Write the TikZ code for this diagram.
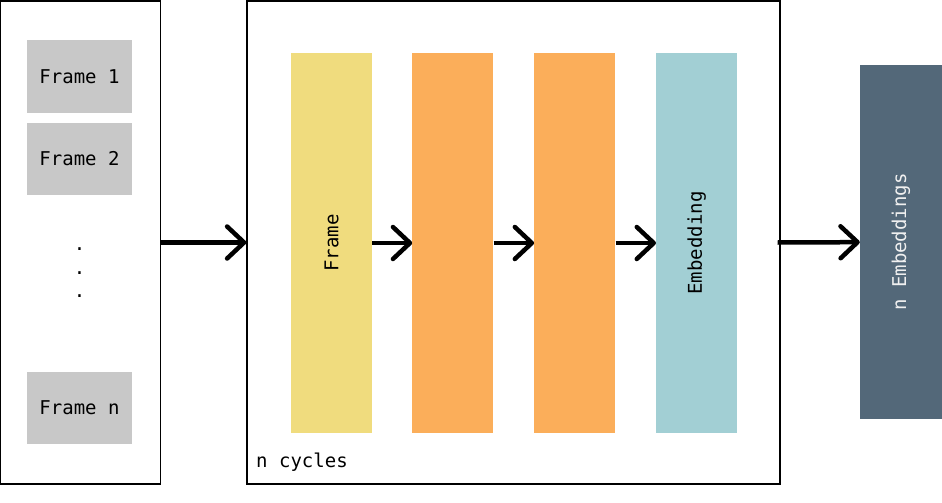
\documentclass[tikz,border=0pt]{standalone}
\usepackage{fontspec}
\setmonofont{DejaVu Sans Mono}
\usetikzlibrary{arrows.meta, positioning}

\definecolor{framegray}{HTML}{C8C8C8}
\definecolor{frameyellow}{HTML}{F0DC7E}
\definecolor{layerorange}{HTML}{FBAE5A}
\definecolor{embedteal}{HTML}{A2CFD4}
\definecolor{outslate}{HTML}{536879}

\begin{document}
\begin{tikzpicture}[
    x=1pt, y=-1pt,
    font=\fontsize{19}{22}\selectfont\ttfamily,
    panel/.style={rectangle, draw=black, line width=1.3pt, inner sep=0pt},
    framebox/.style={rectangle, fill=framegray, minimum width=105pt, minimum height=72pt, inner sep=0pt},
    block/.style={rectangle, minimum width=81pt, minimum height=380pt, inner sep=0pt},
    arr/.style={-{Straight Barb[length=17pt, width=32pt, round]}, line width=4.5pt},
]
\useasboundingbox (0,0) rectangle (942,503);

% ── Left panel: input frames ──
\node[panel, minimum width=160pt, minimum height=483pt] (frames) at (80.5,242.5) {};
\node[framebox] (f1) at (79.5,76.5) {Frame 1};
\node[framebox, below=10pt of f1] (f2) {Frame 2};
\node[align=center, inner sep=0pt, font=\fontsize{19}{23.5}\selectfont\ttfamily] (dots) at (79.5,273) {.\\.\\.};
\node[framebox] (fn) at (79.5,408) {Frame n};

% ── Middle panel: one cycle ──
\node[panel, minimum width=533pt, minimum height=483pt] (cycle) at (513.5,242.5) {};
\node[block, fill=frameyellow] (b1) at (331.5,243) {\rotatebox{90}{Frame}};
\node[block, fill=layerorange, right=40pt of b1] (b2) {};
\node[block, fill=layerorange, right=40.5pt of b2] (b3) {};
\node[block, fill=embedteal, right=40.5pt of b3] (b4) {\rotatebox{90}{Embedding}};
\node[anchor=base west, inner sep=0pt] (ncyc) at (256,467) {n cycles};

\draw[arr] (b1) -- (b2);
\draw[arr] (b2) -- (b3);
\draw[arr] (b3) -- (b4);

% ── Right: output ──
\node[rectangle, fill=outslate, minimum width=82pt, minimum height=354pt, inner sep=0pt,
      text=white!88!gray] (out) at (901,242) {\rotatebox{90}{n Embeddings}};

\draw[arr] (frames) -- (cycle);
\draw[arr] ([xshift=-3pt]cycle.east) -- (out);

\end{tikzpicture}
\end{document}
